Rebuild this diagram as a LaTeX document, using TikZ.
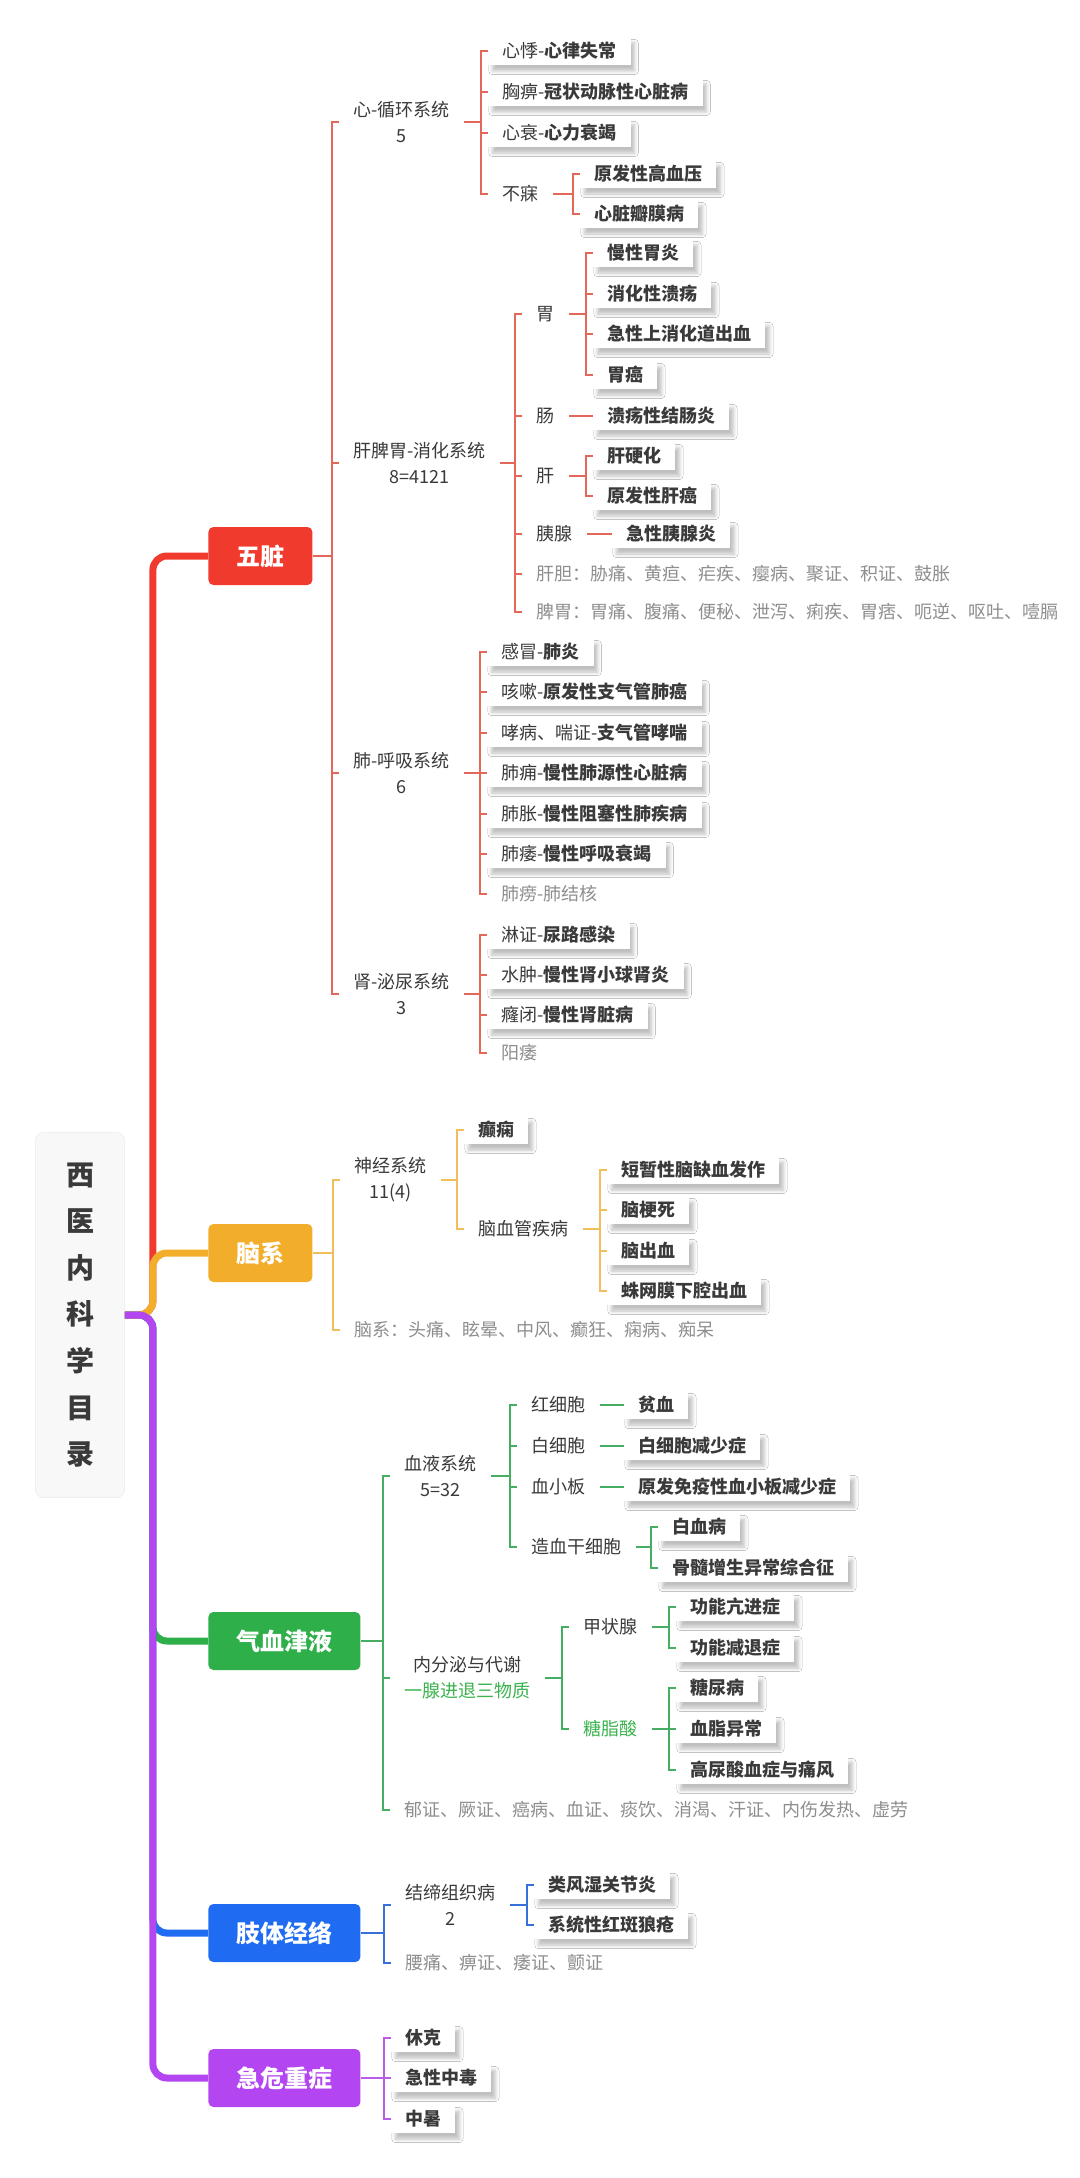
\documentclass[tikz,border=0pt]{standalone}
\usepackage{fontspec}
\setmainfont{Noto Sans CJK SC}
\usetikzlibrary{calc,shadows.blur}

\definecolor{cred}{HTML}{F03A2E}
\definecolor{corange}{HTML}{F2AE2B}
\definecolor{cgreen}{HTML}{2EAF4A}
\definecolor{cblue}{HTML}{1F6CF2}
\definecolor{cpurple}{HTML}{B346F0}
\definecolor{lred}{HTML}{E4685A}
\definecolor{lorange}{HTML}{F1BE5C}
\definecolor{lgreen}{HTML}{45AE62}
\definecolor{lblue}{HTML}{3571D8}
\definecolor{lpurple}{HTML}{B75DE8}
\definecolor{ctext}{HTML}{3A3A3A}
\definecolor{cgray}{HTML}{8E8E8E}
\definecolor{gtext}{HTML}{3BB34E}
\definecolor{rootbg}{HTML}{F8F8F8}
\definecolor{rootln}{HTML}{EFEFEF}

\tikzset{
  topic/.style={anchor=west, rounded corners=2.5pt, text=white,
    font=\fontsize{12}{14}\selectfont\bfseries,
    minimum height=29pt, minimum width=52pt, inner xsep=14pt},
  item/.style={anchor=west, inner xsep=7pt, inner ysep=2pt, text=ctext,
    font=\fontsize{9}{13}\selectfont, align=center},
  leaf/.style={item, fill=white, minimum height=14pt,
    font=\fontsize{9}{13}\selectfont\bfseries,
    blur shadow={shadow xshift=2pt, shadow yshift=-3pt,
      shadow blur radius=1.8pt, shadow opacity=25}},
  note/.style={item, text=cgray},
  trunk/.style={line width=3.5pt, rounded corners=7pt},
  link/.style={line width=0.9pt},
}

\begin{document}
\begin{tikzpicture}[x=0.5pt,y=-0.5pt]
  \fill[white] (0,0) rectangle (1080,2178);
  \useasboundingbox (0,0) rectangle (1080,2178);

  % Root
  \node[fill=rootbg, draw=rootln, rounded corners=4pt, minimum width=44.5pt,
    minimum height=182.5pt, align=center, text=ctext,
    font=\fontsize{14}{23.3}\selectfont\bfseries] (root) at (80,1315)
    {西\\医\\内\\科\\学\\目\\录};

  % Main topics
  \node[topic, fill=cred] (wz) at (208,556) {五脏};
  \node[topic, fill=corange] (nx) at (208,1253) {脑系};
  \node[topic, fill=cgreen] (qx) at (208,1641) {气血津液};
  \node[topic, fill=cblue] (zt) at (208,1933) {肢体经络};
  \node[topic, fill=cpurple] (jw) at (208,2078) {急危重症};

  % Trunk
  \draw[trunk, cred] (root.east) -- ++(28,0) |- (wz.west);
  \draw[trunk, cgreen] (root.east) -- ++(28,0) |- (qx.west);
  \draw[trunk, cblue] (root.east) -- ++(28,0) |- (zt.west);
  \draw[trunk, corange] (root.east) -- ++(28,0) |- (nx.west);
  \draw[trunk, cpurple] (root.east) -- ++(28,0) |- (jw.west);

  % 五脏
  \node[item] (xin) at (339,122) {心-循环系统\\5};
  \node[item] (gpw) at (339,463) {肝脾胃-消化系统\\8=4121};
  \node[item] (fei) at (339,773) {肺-呼吸系统\\6};
  \node[item] (shen) at (339,994) {肾-泌尿系统\\3};
  \foreach \nd in {xin,gpw,fei,shen}
    \draw[link, lred] (\nd.west) -- ++(-7,0) |- (wz.east);

  % 心
  \node[leaf] (xj) at (488,51) {{\mdseries 心悸-}心律失常};
  \node[leaf] (xb) at (488,92) {{\mdseries 胸痹-}冠状动脉性心脏病};
  \node[leaf] (xs) at (488,133) {{\mdseries 心衰-}心力衰竭};
  \node[item] (bm) at (488,194) {不寐};
  \foreach \nd in {xj,xb,xs,bm}
    \draw[link, lred] (\nd.west) -- ++(-7,0) |- (xin.east);
  \node[leaf] (gxy) at (580,174) {原发性高血压};
  \node[leaf] (bmb) at (580,214) {心脏瓣膜病};
  \foreach \nd in {gxy,bmb}
    \draw[link, lred] (\nd.west) -- ++(-7,0) |- (bm.east);

  % 肝脾胃
  \node[item] (wei) at (522,314) {胃};
  \node[item] (chang) at (522,416) {肠};
  \node[item] (gan) at (522,476) {肝};
  \node[item] (yx) at (522,534) {胰腺};
  \node[note] (gd) at (522,574) {肝胆：胁痛、黄疸、疟疾、瘿病、聚证、积证、鼓胀};
  \node[note] (pw) at (522,612) {脾胃：胃痛、腹痛、便秘、泄泻、痢疾、胃痞、呃逆、呕吐、噎膈};
  \foreach \nd in {wei,chang,gan,yx,gd,pw}
    \draw[link, lred] (\nd.west) -- ++(-7,0) |- (gpw.east);
  \node[leaf] (wy) at (593,253) {慢性胃炎};
  \node[leaf] (ky) at (593,294) {消化性溃疡};
  \node[leaf] (cx) at (593,334) {急性上消化道出血};
  \node[leaf] (wa) at (593,375) {胃癌};
  \foreach \nd in {wy,ky,cx,wa}
    \draw[link, lred] (\nd.west) -- ++(-7,0) |- (wei.east);
  \node[leaf] (jc) at (593,416) {溃疡性结肠炎};
  \draw[link, lred] (jc.west) -- ++(-7,0) |- (chang.east);
  \node[leaf] (gyh) at (593,456) {肝硬化};
  \node[leaf] (ga) at (593,496) {原发性肝癌};
  \foreach \nd in {gyh,ga}
    \draw[link, lred] (\nd.west) -- ++(-7,0) |- (gan.east);
  \node[leaf] (yxy) at (612,534) {急性胰腺炎};
  \draw[link, lred] (yxy.west) -- ++(-7,0) |- (yx.east);

  % 肺
  \node[leaf] (fy) at (487,652) {{\mdseries 感冒-}肺炎};
  \node[leaf] (fa) at (487,692) {{\mdseries 咳嗽-}原发性支气管肺癌};
  \node[leaf] (xc) at (487,733) {{\mdseries 哮病、喘证-}支气管哮喘};
  \node[leaf] (fxb) at (487,773) {{\mdseries 肺痈-}慢性肺源性心脏病};
  \node[leaf] (mz) at (487,814) {{\mdseries 肺胀-}慢性阻塞性肺疾病};
  \node[leaf] (hs) at (487,854) {{\mdseries 肺痿-}慢性呼吸衰竭};
  \node[note] (fl) at (487,894) {肺痨-肺结核};
  \foreach \nd in {fy,fa,xc,fxb,mz,hs,fl}
    \draw[link, lred] (\nd.west) -- ++(-7,0) |- (fei.east);

  % 肾
  \node[leaf] (lz) at (487,935) {{\mdseries 淋证-}尿路感染};
  \node[leaf] (sz) at (487,975) {{\mdseries 水肿-}慢性肾小球肾炎};
  \node[leaf] (lb) at (487,1015) {{\mdseries 癃闭-}慢性肾脏病};
  \node[note] (yw) at (487,1053) {阳痿};
  \foreach \nd in {lz,sz,lb,yw}
    \draw[link, lred] (\nd.west) -- ++(-7,0) |- (shen.east);

  % 脑系
  \node[item] (sj) at (340,1180) {神经系统\\11(4)};
  \node[note] (nxn) at (340,1330) {脑系：头痛、眩晕、中风、癫狂、痫病、痴呆};
  \foreach \nd in {sj,nxn}
    \draw[link, lorange] (\nd.west) -- ++(-7,0) |- (nx.east);
  \node[leaf] (dx) at (464,1130) {癫痫};
  \node[item] (nxg) at (464,1229) {脑血管疾病};
  \foreach \nd in {dx,nxg}
    \draw[link, lorange] (\nd.west) -- ++(-7,0) |- (sj.east);
  \node[leaf] (tia) at (607,1170) {短暂性脑缺血发作};
  \node[leaf] (ngs) at (607,1210) {脑梗死};
  \node[leaf] (ncx) at (607,1251) {脑出血};
  \node[leaf] (zw) at (607,1291) {蛛网膜下腔出血};
  \foreach \nd in {tia,ngs,ncx,zw}
    \draw[link, lorange] (\nd.west) -- ++(-7,0) |- (nxg.east);

  % 气血津液
  \node[item] (xy) at (390,1476) {血液系统\\5=32};
  \node[item] (nfm) at (390,1678) {内分泌与代谢\\\textcolor{gtext}{一腺进退三物质}};
  \node[note] (qxn) at (390,1810) {郁证、厥证、癌病、血证、痰饮、消渴、汗证、内伤发热、虚劳};
  \foreach \nd in {xy,nfm,qxn}
    \draw[link, lgreen] (\nd.west) -- ++(-7,0) |- (qx.east);
  \node[item] (hx) at (517,1405) {红细胞};
  \node[item] (bx) at (517,1446) {白细胞};
  \node[item] (xxb) at (517,1487) {血小板};
  \node[item] (zx) at (517,1547) {造血干细胞};
  \foreach \nd in {hx,bx,xxb,zx}
    \draw[link, lgreen] (\nd.west) -- ++(-7,0) |- (xy.east);
  \node[leaf] (px) at (624,1405) {贫血};
  \draw[link, lgreen] (px.west) -- ++(-7,0) |- (hx.east);
  \node[leaf] (bjs) at (624,1446) {白细胞减少症};
  \draw[link, lgreen] (bjs.west) -- ++(-7,0) |- (bx.east);
  \node[leaf] (xbs) at (624,1487) {原发免疫性血小板减少症};
  \draw[link, lgreen] (xbs.west) -- ++(-7,0) |- (xxb.east);
  \node[leaf] (bxb) at (658,1527) {白血病};
  \node[leaf] (gs) at (658,1568) {骨髓增生异常综合征};
  \foreach \nd in {bxb,gs}
    \draw[link, lgreen] (\nd.west) -- ++(-7,0) |- (zx.east);
  \node[item] (jzx) at (569,1627) {甲状腺};
  \node[item, text=gtext] (tzs) at (569,1729) {糖脂酸};
  \foreach \nd in {jzx,tzs}
    \draw[link, lgreen] (\nd.west) -- ++(-7,0) |- (nfm.east);
  \node[leaf] (kj) at (676,1607) {功能亢进症};
  \node[leaf] (jt) at (676,1648) {功能减退症};
  \foreach \nd in {kj,jt}
    \draw[link, lgreen] (\nd.west) -- ++(-7,0) |- (jzx.east);
  \node[leaf] (tnb) at (676,1688) {糖尿病};
  \node[leaf] (xz) at (676,1729) {血脂异常};
  \node[leaf] (tf) at (676,1770) {高尿酸血症与痛风};
  \foreach \nd in {tnb,xz,tf}
    \draw[link, lgreen] (\nd.west) -- ++(-7,0) |- (tzs.east);

  % 肢体经络
  \node[item] (jd) at (391,1905) {结缔组织病\\2};
  \node[note] (ztn) at (391,1963) {腰痛、痹证、痿证、颤证};
  \foreach \nd in {jd,ztn}
    \draw[link, lblue] (\nd.west) -- ++(-7,0) |- (zt.east);
  \node[leaf] (lf) at (534,1885) {类风湿关节炎};
  \node[leaf] (hb) at (534,1925) {系统性红斑狼疮};
  \foreach \nd in {lf,hb}
    \draw[link, lblue] (\nd.west) -- ++(-7,0) |- (jd.east);

  % 急危重症
  \node[leaf] (xk) at (391,2038) {休克};
  \node[leaf] (zd) at (391,2078) {急性中毒};
  \node[leaf] (zs) at (391,2119) {中暑};
  \foreach \nd in {xk,zd,zs}
    \draw[link, lpurple] (\nd.west) -- ++(-7,0) |- (jw.east);
\end{tikzpicture}
\end{document}
